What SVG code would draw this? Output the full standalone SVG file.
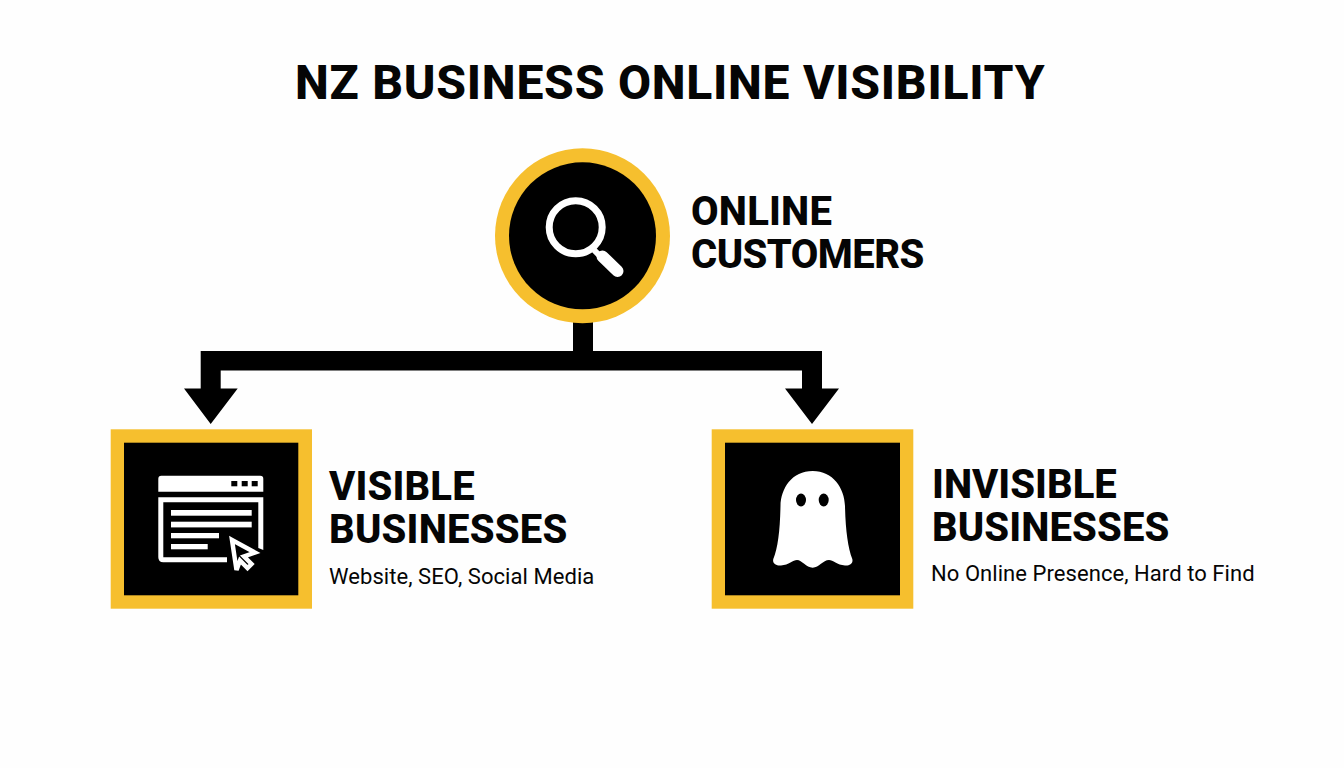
<svg xmlns="http://www.w3.org/2000/svg" width="1344" height="768" viewBox="0 0 1344 768">
<style>
text{font-family:Roboto,"Liberation Sans",sans-serif;fill:#050505}
.title{font-size:48px;font-weight:800;letter-spacing:.75px}
.h{font-size:40px;font-weight:800;letter-spacing:0}
.s{font-size:22px;font-weight:400;letter-spacing:.06px}
.gold{fill:#f6bf2e}
.blk{fill:#000}
.w{fill:#fff}
</style>
<rect width="1344" height="768" fill="#fefefe"/>
<text id="title" class="title" x="295" y="99">NZ BUSINESS ONLINE VISIBILITY</text>
<g id="connectors">
<path class="blk" d="M573 320H593V351H822V388.500H839L812 424L785 388.500H802V370.500H220.700V388.500H237.700L210.700 424L184 388.500H200.700V351H573Z"/>
</g>
<g id="customers">
<circle class="gold" cx="582.500" cy="235.800" r="87.500"/>
<circle class="blk" cx="582.500" cy="235.800" r="73.500"/>
<circle cx="575.700" cy="227.300" r="26.500" fill="none" stroke="#fff" stroke-width="7"/>
<path d="M594 250L601 257" stroke="#fff" stroke-width="6"/>
<path d="M602.500 256.500L617.500 271" stroke="#fff" stroke-width="12" stroke-linecap="round"/>
<text class="h" x="691" y="225" style="letter-spacing:.2px">ONLINE</text>
<text class="h" x="691" y="268" style="letter-spacing:-.55px">CUSTOMERS</text>
</g>
<g id="visible">
<rect class="gold" x="110.700" y="429.300" width="201.300" height="179.400"/>
<rect class="blk" x="124" y="442.700" width="174.300" height="152.600"/>
<path class="w" d="M161.300 475.700H260.300Q263.300 475.700 263.300 478.700V491.700H158.300V478.700Q158.300 475.700 161.300 475.700Z"/>
<rect class="blk" x="231.300" y="481" width="6" height="5.300"/>
<rect class="blk" x="241.700" y="481" width="6" height="5.300"/>
<rect class="blk" x="251.700" y="481" width="6" height="5.300"/>
<path class="w" d="M158.300 497.300H263.300V550L258.300 548V502.300H163.300V557.300H227V562.300H163.300Q158.300 562.300 158.300 557.300Z"/>
<rect class="w" x="171" y="510" width="80.700" height="5.700"/>
<rect class="w" x="171" y="521.700" width="80.700" height="5.700"/>
<rect class="w" x="171" y="533" width="48" height="5.300"/>
<rect class="w" x="171" y="544" width="36.700" height="5.300"/>
<path d="M232 540L255 552.500L244 556.500L251.500 564L247.500 568L240 560.500L236.500 570Z" fill="#000" stroke="#fff" stroke-width="4.500" stroke-linejoin="miter"/>
<text class="h" x="329" y="499.500" style="letter-spacing:.15px">VISIBLE</text>
<text class="h" x="329" y="542.500" style="letter-spacing:.2px">BUSINESSES</text>
<text class="s" x="329" y="584">Website, SEO, Social Media</text>
</g>
<g id="invisible">
<rect class="gold" x="711.700" y="429.300" width="201.600" height="179.400"/>
<rect class="blk" x="725" y="442.700" width="175" height="152.600"/>
<path class="w" d="M812.700 471C792 471 781 488 780.500 506C780 530 778 548 773.300 559C772 564 777 566 781 565.500C789 565 793 560 797 560C802 560 806 567.700 812.700 567.700C819 567.700 823 560 829 560C833 560 837 565 845 565.500C849 566 853.500 564 852.300 559C848 548 845.500 530 845 506C844.500 488 833 471 812.700 471Z"/>
<ellipse class="blk" cx="801" cy="500" rx="5" ry="6.500"/>
<ellipse class="blk" cx="823.700" cy="500" rx="5" ry="6.500"/>
<text class="h" x="932" y="497.500">INVISIBLE</text>
<text class="h" x="932" y="540.500" style="letter-spacing:.1px">BUSINESSES</text>
<text class="s" x="931" y="581">No Online Presence, Hard to Find</text>
</g>
</svg>
